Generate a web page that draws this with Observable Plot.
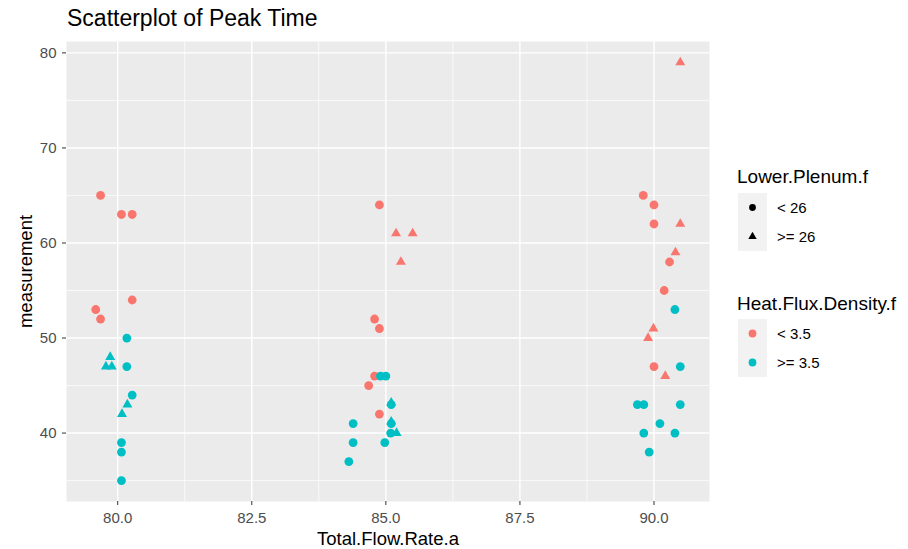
<!DOCTYPE html>
<html>
<head>
<meta charset="utf-8">
<script src="https://cdn.jsdelivr.net/npm/d3@7"></script>
<script src="https://cdn.jsdelivr.net/npm/@observablehq/plot@0.6"></script>
<style>
  body { margin: 0; background: #fff; font-family: "Liberation Sans", Arial, sans-serif; }
  #wrap { position: relative; width: 908px; height: 549px; overflow: hidden; }
  #title { position: absolute; left: 67px; top: 7px; font-size: 23px; line-height: 23px; color: #000; white-space: nowrap; }
  #chart { position: absolute; left: 0; top: 0; }
  #legend { position: absolute; left: 720px; top: 150px; }
</style>
</head>
<body>
<div id="wrap">
  <div id="chart"></div>
  <div id="title">Scatterplot of Peak Time</div>
  <div id="legend"></div>
</div>
<script>
// ---- data (x values include ggplot jitter) ----
const flowRate = [
  79.68, 80.07, 80.27, 80.27, 79.59, 79.68, 80.17, 79.86, 79.78, 79.89, 80.17, 80.27, 80.18, 80.08, 80.07, 80.07, 80.07,
  84.88, 85.19, 85.50, 85.28, 84.79, 84.88, 84.79, 84.90, 85.00, 84.68, 85.10, 85.10, 84.88, 84.39, 85.10, 85.10, 85.09, 85.20, 84.39, 84.98, 84.31,
  90.49, 89.80, 90.00, 90.00, 90.49, 90.40, 90.29, 90.19, 90.39, 89.99, 89.89, 90.00, 90.49, 90.21, 89.69, 89.81, 90.49, 90.11, 89.81, 90.39, 89.91
];
const measurement = [
  65, 63, 63, 54, 53, 52, 50, 48, 47, 47, 47, 44, 43, 42, 39, 38, 35,
  64, 61, 61, 58, 52, 51, 46, 46, 46, 45, 43, 43.2, 42, 41, 41, 41.2, 40, 40, 39, 39, 37,
  79, 65, 64, 62, 62, 59, 58, 55, 53, 51, 50, 47, 47, 46, 43, 43, 43, 41, 40, 40, 38
];
const lowerPlenum = [
  "< 26", "< 26", "< 26", "< 26", "< 26", "< 26", "< 26", ">= 26", ">= 26", ">= 26", "< 26", "< 26", ">= 26", ">= 26", "< 26", "< 26", "< 26",
  "< 26", ">= 26", ">= 26", ">= 26", "< 26", "< 26", "< 26", "< 26", "< 26", "< 26", "< 26", ">= 26", "< 26", "< 26", "< 26", ">= 26", "< 26", ">= 26", "< 26", "< 26", "< 26",
  ">= 26", "< 26", "< 26", "< 26", ">= 26", ">= 26", "< 26", "< 26", "< 26", ">= 26", ">= 26", "< 26", "< 26", ">= 26", "< 26", "< 26", "< 26", "< 26", "< 26", "< 26", "< 26"
];
const heatFlux = [
  "< 3.5", "< 3.5", "< 3.5", "< 3.5", "< 3.5", "< 3.5", ">= 3.5", ">= 3.5", ">= 3.5", ">= 3.5", ">= 3.5", ">= 3.5", ">= 3.5", ">= 3.5", ">= 3.5", ">= 3.5", ">= 3.5",
  "< 3.5", "< 3.5", "< 3.5", "< 3.5", "< 3.5", "< 3.5", "< 3.5", ">= 3.5", ">= 3.5", "< 3.5", ">= 3.5", ">= 3.5", "< 3.5", ">= 3.5", ">= 3.5", ">= 3.5", ">= 3.5", ">= 3.5", ">= 3.5", ">= 3.5", ">= 3.5",
  "< 3.5", "< 3.5", "< 3.5", "< 3.5", "< 3.5", "< 3.5", "< 3.5", "< 3.5", ">= 3.5", "< 3.5", "< 3.5", "< 3.5", ">= 3.5", "< 3.5", ">= 3.5", ">= 3.5", ">= 3.5", ">= 3.5", ">= 3.5", ">= 3.5", ">= 3.5"
];
const plenumLevels = ["< 26", ">= 26"];
const plenumSymbols = ["circle", "triangle"];
const heatLevels = ["< 3.5", ">= 3.5"];
const heatColors = ["#F8766D", "#00BFC4"];
const xTicks = [80, 82.5, 85, 87.5, 90];
const xTickLabels = ["80.0", "82.5", "85.0", "87.5", "90.0"];
const xMinor = [81.25, 83.75, 86.25, 88.75];
const yTicks = [40, 50, 60, 70, 80];
const yTickLabels = ["40", "50", "60", "70", "80"];
const yMinor = [35, 45, 55, 65, 75];
const xTitle = "Total.Flow.Rate.a";
const yTitle = "measurement";
const plenumTitle = "Lower.Plenum.f";
const heatTitle = "Heat.Flux.Density.f";

const points = flowRate.map((x, i) => ({flow: x, meas: measurement[i], plenum: lowerPlenum[i], heat: heatFlux[i]}));

const FONT = "'Liberation Sans', Arial, sans-serif";

const chart = Plot.plot({
  width: 720,
  height: 549,
  marginTop: 41,
  marginBottom: 48,
  marginLeft: 66,
  marginRight: 11,
  style: {fontFamily: FONT, background: "transparent", overflow: "visible"},
  x: {domain: [79.045, 91.035]},
  y: {domain: [32.8, 81.2]},
  color: {domain: heatLevels, range: heatColors},
  symbol: {domain: plenumLevels, range: plenumSymbols},
  marks: [
    Plot.frame({fill: "#EBEBEB", stroke: "none"}),
    Plot.ruleY(yMinor, {stroke: "white", strokeWidth: 0.7}),
    Plot.ruleX(xMinor, {stroke: "white", strokeWidth: 0.7}),
    Plot.ruleY(yTicks, {stroke: "white", strokeWidth: 1.4}),
    Plot.ruleX(xTicks, {stroke: "white", strokeWidth: 1.4}),
    Plot.axisX({ticks: xTicks, tickFormat: d => xTickLabels[xTicks.indexOf(d)], tickSize: 4, tickPadding: 7,
      stroke: "#333333", fill: "#4D4D4D", fontSize: 15, label: null}),
    Plot.axisY({ticks: yTicks, tickFormat: d => yTickLabels[yTicks.indexOf(d)], tickSize: 4, tickPadding: 6,
      stroke: "#333333", fill: "#4D4D4D", fontSize: 15, label: null}),
    Plot.text([xTitle], {text: d => d, frameAnchor: "bottom", lineAnchor: "middle", textAnchor: "middle",
      dy: 37.5, fontSize: 18.5, fill: "#000"}),
    Plot.text([yTitle], {text: d => d, frameAnchor: "left", lineAnchor: "middle", textAnchor: "middle",
      dx: -40, rotate: -90, fontSize: 18.5, fill: "#000"}),
    Plot.dot(points, {filter: d => d.plenum === plenumLevels[0], x: "flow", y: "meas", fill: "heat", symbol: "plenum", r: 4.4}),
    Plot.dot(points, {filter: d => d.plenum === plenumLevels[1], x: "flow", y: "meas", fill: "heat", symbol: "plenum", r: 3.7})
  ]
});
document.getElementById("chart").appendChild(chart);

// ---- legend ----
const lg = d3.select("#legend").append("svg")
  .attr("width", 188).attr("height", 240)
  .style("font-family", FONT);

function legendBlock(title, titleY, levels, keyY, drawKey) {
  lg.append("text").attr("x", 17).attr("y", titleY).attr("font-size", 19).attr("fill", "#000").text(title);
  levels.forEach((lev, i) => {
    const y0 = keyY + i * 29;
    lg.append("rect").attr("x", 18).attr("y", y0).attr("width", 29).attr("height", 29).attr("fill", "#F2F2F2");
    drawKey(lg, 32.5, y0 + 14.5, i);
    lg.append("text").attr("x", 57).attr("y", y0 + 14.5).attr("dominant-baseline", "central")
      .attr("font-size", 15).attr("fill", "#000").text(lev);
  });
}

legendBlock(plenumTitle, 32.7, plenumLevels, 43, (g, cx, cy, i) => {
  const type = i === 0 ? d3.symbolCircle : d3.symbolTriangle;
  const size = i === 0 ? Math.PI * 3.4 * 3.4 : Math.PI * 3.1 * 3.1;
  g.append("path").attr("transform", `translate(${cx},${cy})`).attr("d", d3.symbol(type, size)()).attr("fill", "#000");
});
legendBlock(heatTitle, 160, heatLevels, 169, (g, cx, cy, i) => {
  g.append("circle").attr("cx", cx).attr("cy", cy).attr("r", 3.9).attr("fill", heatColors[i]);
});
</script>
</body>
</html>
